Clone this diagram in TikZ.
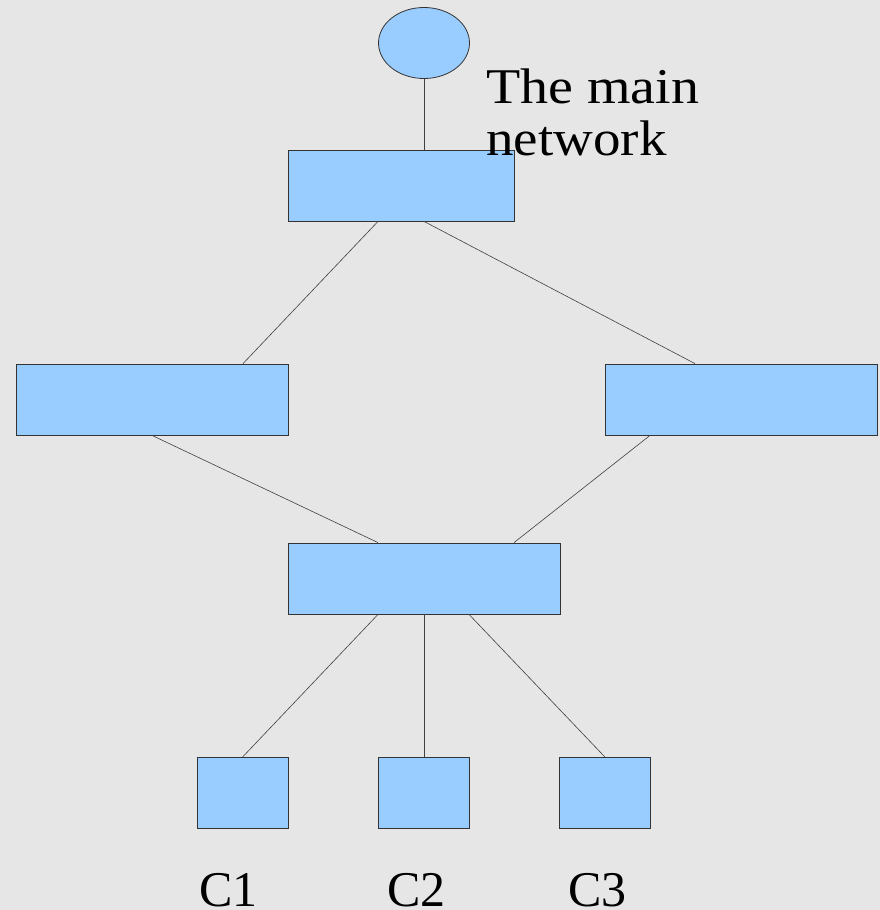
\documentclass[tikz,border=0pt]{standalone}
\usepackage{fontspec}
\setmainfont{Liberation Serif}
\usepackage{tikz}
\usetikzlibrary{shapes}
\definecolor{boxblue}{HTML}{99CCFF}
\definecolor{bggray}{HTML}{E6E6E6}
\tikzset{box node/.style={rectangle,fill=boxblue,draw=black!80,line width=0.8pt,inner sep=0pt},
         net node/.style={ellipse,fill=boxblue,draw=black!80,line width=0.8pt,inner sep=0pt,minimum width=91pt,minimum height=71pt},
         label node/.style={font=\fontsize{50}{52}\selectfont,inner sep=0pt}}

\begin{document}
\begin{tikzpicture}[x=1pt,y=-1pt,line width=0.6pt,
        box node/.append style={minimum height=71pt}]
   \fill[bggray] (0,0) rectangle (880,910);
   \useasboundingbox (0,0) rectangle (880,910);
   \node[net node] (net) at (424,43) {};
   \node[box node,minimum width=226pt] (top) at (401,185.5) {};
   \node[box node,minimum width=272pt] (left) at (152,399.5) {};
   \node[box node,minimum width=272pt] (right) at (741,399.5) {};
   \node[box node,minimum width=272pt] (mid) at (424,578.5) {};
   \node[box node,minimum width=91pt] (c1) at (242.5,793) {};
   \node[box node,minimum width=91pt] (c2) at (424,793) {};
   \node[box node,minimum width=91pt] (c3) at (605,793) {};

   \path[draw=black!75]
    (net) edge ([xshift=23pt]top.north)
    ([xshift=-23pt]top.south) edge ([xshift=91pt]left.north)
    ([xshift=23pt]top.south) edge ([xshift=-46pt]right.north)
    (left.south) edge ([xshift=-46pt]mid.north)
    ([xshift=-91pt]right.south) edge ([xshift=90pt]mid.north)
    ([xshift=-46pt]mid.south) edge (c1.north)
    (mid.south) edge (c2.north)
    ([xshift=45pt]mid.south) edge (c3.north);

   \node[label node,anchor=base west,align=left] (netlabel) at (486,155)
        {\scalebox{1.12}[1]{The main}\\\scalebox{1.1}[1]{network}};
   \node[label node,anchor=base west] (l1) at (199,906) {C1};
   \node[label node,anchor=base west] (l2) at (387,906) {C2};
   \node[label node,anchor=base west] (l3) at (568,906) {C3};
\end{tikzpicture}
\end{document}
